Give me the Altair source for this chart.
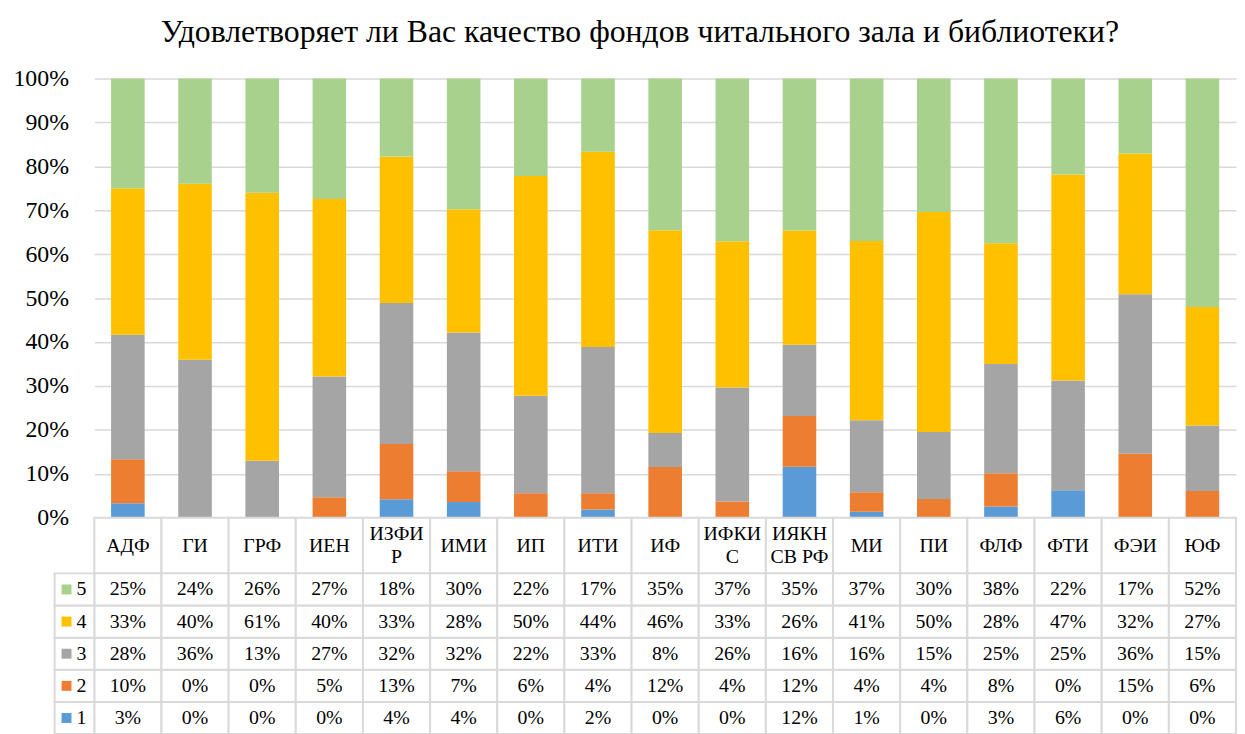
import altair as alt
import pandas as pd

FONT = "Liberation Serif, Times New Roman, serif"

title_text = "Удовлетворяет ли Вас качество фондов читального зала и библиотеки?"

categories = ["АДФ", "ГИ", "ГРФ", "ИЕН", "ИЗФИР", "ИМИ", "ИП", "ИТИ", "ИФ",
              "ИФКИС", "ИЯКН СВ РФ", "МИ", "ПИ", "ФЛФ", "ФТИ", "ФЭИ", "ЮФ"]
# header cell text, first and second line (empty second line = single-line cell)
header_line1 = ["АДФ", "ГИ", "ГРФ", "ИЕН", "ИЗФИ", "ИМИ", "ИП", "ИТИ", "ИФ",
                "ИФКИ", "ИЯКН", "МИ", "ПИ", "ФЛФ", "ФТИ", "ФЭИ", "ЮФ"]
header_line2 = ["", "", "", "", "Р", "", "", "", "",
                "С", "СВ РФ", "", "", "", "", "", ""]
levels = ["1", "2", "3", "4", "5"]

# percentages per answer level (1 = worst, 5 = best)
score_1 = [3.3, 0, 0, 0, 4.2, 3.6, 0, 1.9, 0, 0, 11.6, 1.4, 0, 2.6, 6.3, 0, 0]
score_2 = [10.0, 0, 0, 4.7, 12.6, 7.0, 5.6, 3.7, 11.6, 3.7, 11.6, 4.4, 4.3, 7.6, 0, 14.6, 6.1]
score_3 = [28.3, 36.0, 13.0, 27.4, 32.1, 31.6, 22.2, 33.3, 7.7, 25.9, 16.2, 16.4, 15.2, 24.9, 25.0, 36.3, 14.9]
score_4 = [33.3, 40.0, 61.0, 40.3, 33.3, 28.1, 50.0, 44.4, 46.2, 33.3, 26.0, 40.8, 50.0, 27.6, 46.9, 32.0, 27.0]
score_5 = [25.0, 24.0, 26.0, 27.4, 17.8, 29.8, 22.2, 16.7, 34.6, 37.0, 34.6, 37.0, 30.4, 37.6, 21.9, 17.1, 52.0]

colors = ["#5B9BD5", "#ED7D31", "#A5A5A5", "#FFC000", "#A9D18E"]

series = {"1": score_1, "2": score_2, "3": score_3, "4": score_4, "5": score_5}
rows = []
for lvl in levels:
    for c, v in zip(categories, series[lvl]):
        rows.append({"cat": c, "level": lvl, "value": v, "label": f"{v:.0f}%"})
df = pd.DataFrame(rows)

W = 1151
GRID = "#d9d9d9"
color_scale = alt.Scale(domain=levels, range=colors)

bars = alt.Chart(df).mark_bar().encode(
    x=alt.X("cat:N", sort=categories,
            scale=alt.Scale(domain=categories, paddingInner=0.5, paddingOuter=0.25),
            axis=None),
    y=alt.Y("value:Q", stack="normalize", scale=alt.Scale(domain=[0, 1]),
            axis=alt.Axis(values=[i / 10 for i in range(11)], format=".0%",
                          labelFont=FONT, labelFontSize=24, labelColor="black",
                          labelPadding=26, ticks=False, domain=False,
                          gridColor=GRID, gridWidth=1.5, title=None)),
    color=alt.Color("level:N", scale=color_scale, legend=None),
    order=alt.Order("level:O", sort="ascending"),
).properties(width=W, height=443)

hx = alt.X("cat:N", sort=categories,
           scale=alt.Scale(domain=categories, paddingInner=0, paddingOuter=0),
           axis=None)

hdr_df = pd.DataFrame({"cat": categories, "line1": header_line1, "line2": header_line2})
hdr_base = alt.Chart(hdr_df)
txt_kw = dict(font=FONT, fontSize=20, color="black", baseline="middle")
header = alt.layer(
    hdr_base.mark_rect(fill="white", stroke=GRID, strokeWidth=2).encode(x=hx),
    hdr_base.transform_filter("datum.line2 == ''").mark_text(**txt_kw).encode(
        x=hx, text="line1:N"),
    hdr_base.transform_filter("datum.line2 != ''").mark_text(dy=-11.5, **txt_kw).encode(
        x=hx, text="line1:N"),
    hdr_base.transform_filter("datum.line2 != ''").mark_text(dy=11.5, **txt_kw).encode(
        x=hx, text="line2:N"),
).properties(width=W, height=56)

row_order = ["5", "4", "3", "2", "1"]
ty = alt.Y("level:N", sort=row_order,
           scale=alt.Scale(domain=row_order, paddingInner=0, paddingOuter=0),
           axis=None)

leg_df = pd.DataFrame({"col": ["key"] * 5, "level": levels})
lx = alt.X("col:N", scale=alt.Scale(domain=["key"], range=[-40, 0],
                                    paddingInner=0, paddingOuter=0), axis=None)

cells = alt.Chart(df).mark_rect(fill="white", stroke=GRID, strokeWidth=2).encode(x=hx, y=ty)
texts = alt.Chart(df).mark_text(font=FONT, fontSize=20, color="black").encode(
    x=hx, y=ty, text="label:N")
leg_cells = alt.Chart(leg_df).mark_rect(fill="white", stroke=GRID, strokeWidth=2).encode(x=lx, y=ty)
leg_sw = alt.Chart(leg_df).mark_square(size=100, opacity=1, filled=True, xOffset=-8).encode(
    x=lx, y=ty, color=alt.Color("level:N", scale=color_scale, legend=None))
leg_txt = alt.Chart(leg_df).mark_text(font=FONT, fontSize=20, color="black", dx=7).encode(
    x=lx, y=ty, text="level:N")

table = alt.layer(cells, texts, leg_cells, leg_sw, leg_txt).resolve_scale(
    x="independent").properties(width=W, height=162)

chart = alt.vconcat(bars, header, table, spacing=0, bounds="flush").properties(
    title=alt.TitleParams(text=title_text, font=FONT, fontSize=32, fontWeight="normal",
                          color="black", anchor="middle", offset=18, dx=15),
    padding={"left": 5, "right": 0, "top": 5, "bottom": 0},
).configure_view(strokeWidth=0)

chart.save("out.html", embed_options={"renderer": "svg", "actions": False})
